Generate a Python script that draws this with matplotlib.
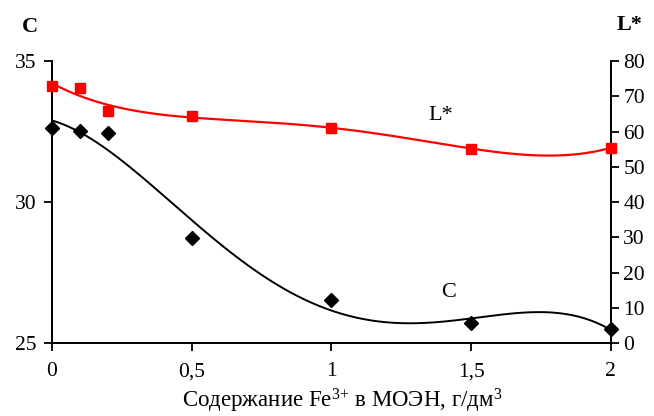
import matplotlib
matplotlib.use("Agg")
import matplotlib.pyplot as plt
import numpy as np

plt.rcParams['font.family'] = ['Liberation Serif', 'DejaVu Serif']
plt.rcParams['mathtext.default'] = 'regular'

# Fe3+ content, g/dm3
x = [0, 0.1, 0.2, 0.5, 1, 1.5, 2]
c_vals = [32.63, 32.53, 32.46, 28.71, 26.52, 25.72, 25.49]
l_vals = [73.0, 72.3, 65.8, 64.4, 61.0, 55.2, 55.4]
xticks = [0, 0.5, 1, 1.5, 2]
xtick_labels = ['0', '0,5', '1', '1,5', '2']

# polynomial trend lines (as in the spreadsheet)
xs = np.linspace(0, 2, 300)
c_fit = np.polyval(np.polyfit(x, c_vals, 4), xs)
l_fit = np.polyval(np.polyfit(x, l_vals, 4), xs)

fig = plt.figure(figsize=(6.54, 4.16), dpi=100)
ax = fig.add_axes([0.0795, 0.1755, 0.8545, 0.6775])
ax2 = ax.twinx()

ax.plot(xs, c_fit, color='black', lw=1.4)
ax.plot(x, c_vals, 'D', color='black', ms=7, clip_on=False, zorder=5)
ax2.plot(xs, l_fit, color='red', lw=1.6)
ax2.plot(x, l_vals, 's', color='red', ms=7.5, clip_on=False, zorder=5)

ax.set_xlim(0, 2)
ax.set_ylim(25, 35)
ax2.set_ylim(0, 80)
ax.set_xticks(xticks)
ax.set_xticklabels(xtick_labels)
ax.set_yticks([25, 30, 35])
ax2.set_yticks(range(0, 81, 10))

for a in (ax, ax2):
    a.spines['top'].set_visible(False)
    for s in a.spines.values():
        s.set_linewidth(1.3)
    a.tick_params(direction='out', length=6, width=1.3, labelsize=15.5)
ax.tick_params(axis='x', pad=8)
ax.tick_params(axis='y', pad=5)
ax2.tick_params(axis='y', pad=3)

ax.set_xlabel('Содержание Fe$^{3{+}}$ в МОЭН, г/дм$^3$', fontsize=16.5)
ax.xaxis.set_label_coords(0.52, -0.155)
fig.text(0.046, 0.935, 'C', fontsize=16, fontweight='bold', ha='center', va='center')
fig.text(0.962, 0.94, 'L*', fontsize=16, fontweight='bold', ha='center', va='center')
ax2.text(1.39, 64.5, 'L*', fontsize=16, ha='center', va='center')
ax.text(1.42, 26.8, 'C', fontsize=16, ha='center', va='center')

fig.savefig('out.png', dpi=100)
